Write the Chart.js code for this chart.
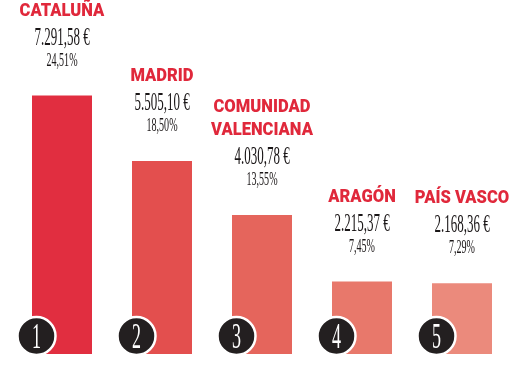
<!DOCTYPE html>
<html>
<head>
<meta charset="utf-8">
<script src="https://cdn.jsdelivr.net/npm/chart.js@4"></script>
<style>
  html, body { margin: 0; padding: 0; background: #fff; }
  #wrap { width: 514px; height: 366px; }
</style>
</head>
<body>
<div id="wrap"><canvas id="chart"></canvas></div>
<script>
// top 5 regions
const regions = [['CATALUÑA'], ['MADRID'], ['COMUNIDAD', 'VALENCIANA'], ['ARAGÓN'], ['PAÍS VASCO']];
const amounts = [7291.58, 5505.10, 4030.78, 2215.37, 2168.36];
const shares = [24.51, 18.50, 13.55, 7.45, 7.29];
const barColors = ['#e12e40', '#e34f4e', '#e5655c', '#e8786b', '#eb8a7c'];

function fmt(n) {
    var parts = n.toFixed(2).split('.');
    var int = parts[0].replace(/\B(?=(\d{3})+(?!\d))/g, '.');
    return int + ',' + parts[1];
}

function squeezed(ctx, text, x, y, sx) {
    ctx.save();
    ctx.translate(x, y);
    ctx.scale(sx, 1);
    ctx.fillText(text, 0, 0);
    ctx.restore();
}

const labelsPlugin = {
    id: 'labels',
    afterDatasetsDraw(chart) {
        const ctx = chart.ctx;
        const meta = chart.getDatasetMeta(0);
        meta.data.forEach(function (bar, i) {
            const top = bar.y;
            const cx = bar.x;
            ctx.save();
            ctx.textAlign = 'center';
            ctx.textBaseline = 'alphabetic';

            // region name
            ctx.fillStyle = '#e0283b';
            ctx.font = '900 18px Roboto';
            const lines = regions[i];
            lines.forEach(function (line, j) {
                const y = top - 80 - (lines.length - 1 - j) * 23;
                squeezed(ctx, line, cx, y, 0.92);
            });

            // amount and share
            ctx.fillStyle = '#1a1617';
            ctx.font = '25px "Liberation Serif"';
            squeezed(ctx, fmt(amounts[i]) + ' €', cx, top - 51, 0.52);
            ctx.font = '18px "Liberation Serif"';
            squeezed(ctx, fmt(shares[i]) + '%', cx, top - 30, 0.56);

            // rank badge
            const bx = bar.x - bar.width / 2 + 4.5;
            const by = 336;
            ctx.beginPath();
            ctx.arc(bx, by, 19, 0, Math.PI * 2);
            ctx.fillStyle = '#231f20';
            ctx.fill();
            ctx.lineWidth = 2.5;
            ctx.strokeStyle = '#ffffff';
            ctx.stroke();
            ctx.fillStyle = '#ffffff';
            ctx.font = '36px "Liberation Serif"';
            squeezed(ctx, String(i + 1), bx, by + 12, 0.5);
            ctx.restore();
        });
    }
};

new Chart(document.getElementById('chart'), {
    type: 'bar',
    data: {
        labels: regions.map(function (r) { return r.join(' '); }),
        datasets: [{
            data: amounts,
            backgroundColor: barColors,
            borderWidth: 0,
            barPercentage: 0.6,
            categoryPercentage: 1
        }]
    },
    plugins: [labelsPlugin],
    options: {
        responsive: true,
        maintainAspectRatio: false,
        animation: false,
        layout: {
            padding: { left: 12, right: 2, top: 0, bottom: 12 }
        },
        scales: {
            x: { display: false },
            y: { display: false, min: 240, max: 9900 }
        },
        plugins: {
            legend: { display: false },
            tooltip: { enabled: false }
        }
    }
});
</script>
</body>
</html>
